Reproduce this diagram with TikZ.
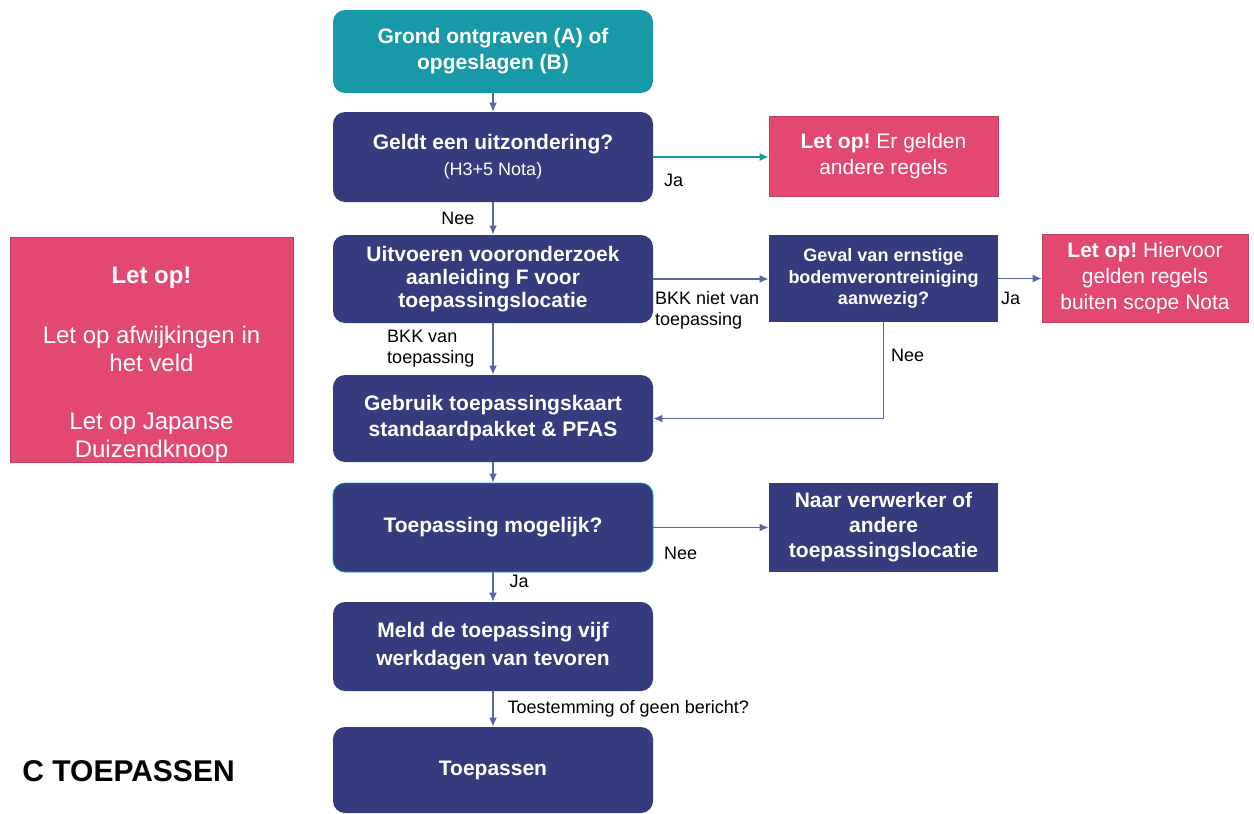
\documentclass[tikz,border=0pt]{standalone}
\usepackage{fontspec}
\setmainfont{Liberation Sans}
\usepackage{tikz}
\usetikzlibrary{arrows.meta,positioning}
\definecolor{navy}{RGB}{54,59,125}
\definecolor{teal1}{RGB}{23,153,168}
\definecolor{roze}{RGB}{226,72,113}
\definecolor{lijn}{RGB}{92,100,168}
\frenchspacing

\begin{document}
\begin{tikzpicture}[x=0.5pt,y=-0.5pt,
  stap/.style={rectangle,rounded corners=6pt,fill=navy,text=white,font=\fontsize{10.5}{13}\selectfont\bfseries,align=center,minimum width=160pt,minimum height=44.5pt,inner sep=2pt},
  kader/.style={rectangle,fill=navy,text=white,align=center,minimum width=114.5pt,inner sep=2pt},
  letop/.style={rectangle,fill=roze,draw=roze!85!black,line width=0.3pt,text=white,align=center,inner sep=2pt,font=\fontsize{10.5}{13}\selectfont},
  pijl/.style={draw=lijn,line width=0.7pt,-{Latex[length=4.5pt,width=4pt]}},
  lbl/.style={font=\fontsize{9}{10.5}\selectfont,inner sep=0pt}]
\useasboundingbox (0,0) rectangle (1254,814);

% hoofdkolom
\node[stap,fill=teal1,minimum height=41.5pt] (grond) at (493,51.5) {Grond ontgraven (A) of\\opgeslagen (B)};
\node[stap,minimum height=45pt] (uitz) at (493,157) {Geldt een uitzondering?\\{\mdseries\fontsize{9}{11}\selectfont (H3+5 Nota)}};
\node[stap,font=\fontsize{10.5}{11.5}\selectfont\bfseries,minimum height=44pt] (vooronderzoek) at (493,279) {Uitvoeren vooronderzoek\\aanleiding F voor\\toepassingslocatie};
\node[stap,minimum height=43.5pt] (gebruik) at (493,418.5) {Gebruik toepassingskaart\\standaardpakket \& PFAS};
\node[stap,draw=teal1,line width=0.4pt] (mogelijk) at (493,527.5) {Toepassing mogelijk?};
\node[stap,font=\fontsize{10.5}{14}\selectfont\bfseries] (meld) at (493,646.5) {Meld de toepassing vijf\\werkdagen van tevoren};
\node[stap,minimum height=43pt] (toepassen) at (493,770) {Toepassen};

% rechterkolom
\node[letop,minimum width=114.5pt,minimum height=40pt] (andere) at (883.5,156) {\textbf{Let op!} Er gelden\\andere regels};
\node[kader,font=\fontsize{9}{10.75}\selectfont\bfseries,minimum height=43.5pt] (geval) at (883.5,278.5) {Geval van ernstige\\bodemverontreiniging\\aanwezig?};
\node[letop,minimum width=103pt,minimum height=44pt] (scope) at (1145,278) {\textbf{Let op!} Hiervoor\\gelden regels\\buiten scope Nota};
\node[kader,font=\fontsize{10.5}{12.5}\selectfont\bfseries,minimum height=44.5pt] (verwerker) at (883.5,527.5) {Naar verwerker of\\andere\\toepassingslocatie};

% links
\node[letop,minimum width=141.5pt,minimum height=112.5pt] (veld) at (151.5,349.5) {};
\node[text=white,align=center,font=\fontsize{12}{14}\selectfont] (veldtekst) at (151.5,365) {\textbf{Let op!}\\[16pt]Let op afwijkingen in\\het veld\\[15pt]Let op Japanse\\Duizendknoop};
\node[font=\fontsize{15}{18}\selectfont\bfseries,anchor=west,inner sep=0pt] (titel) at (22,771) {C TOEPASSEN};

% pijlen
\draw[pijl] (grond) -- (uitz);
\draw[pijl,draw=teal1] (uitz.east) -- node[lbl,pos=0,anchor=north west,xshift=5pt,yshift=-8pt] {Ja} (uitz.east -| andere.west);
\draw[pijl] (uitz) -- node[lbl,left=9pt] {Nee} (vooronderzoek);
\draw[pijl] (vooronderzoek.east) -- node[lbl,pos=0,align=left,anchor=north west,xshift=0.5pt,yshift=-6pt] {BKK niet van\\toepassing} (vooronderzoek.east -| geval.west);
\draw[pijl] (vooronderzoek) -- node[lbl,align=left,left=9pt] {BKK van\\toepassing} (gebruik);
\draw[pijl] (geval.east) -- node[lbl,pos=0,anchor=north west,xshift=1pt,yshift=-6.5pt] {Ja} (geval.east -| scope.west);
\draw[pijl] (geval.south) |- node[lbl,pos=0.17,right=3.5pt] {Nee} (gebruik.east);
\draw[pijl] (gebruik) -- (mogelijk);
\draw[pijl] (mogelijk.east) -- node[lbl,pos=0,anchor=north west,xshift=5pt,yshift=-9.5pt] {Nee} (verwerker.west);
\draw[pijl] (mogelijk) -- node[lbl,pos=0.3,right=8pt] {Ja} (meld);
\draw[pijl] (meld) -- node[lbl,right=7pt] {Toestemming of geen bericht?} (toepassen);
\end{tikzpicture}
\end{document}
